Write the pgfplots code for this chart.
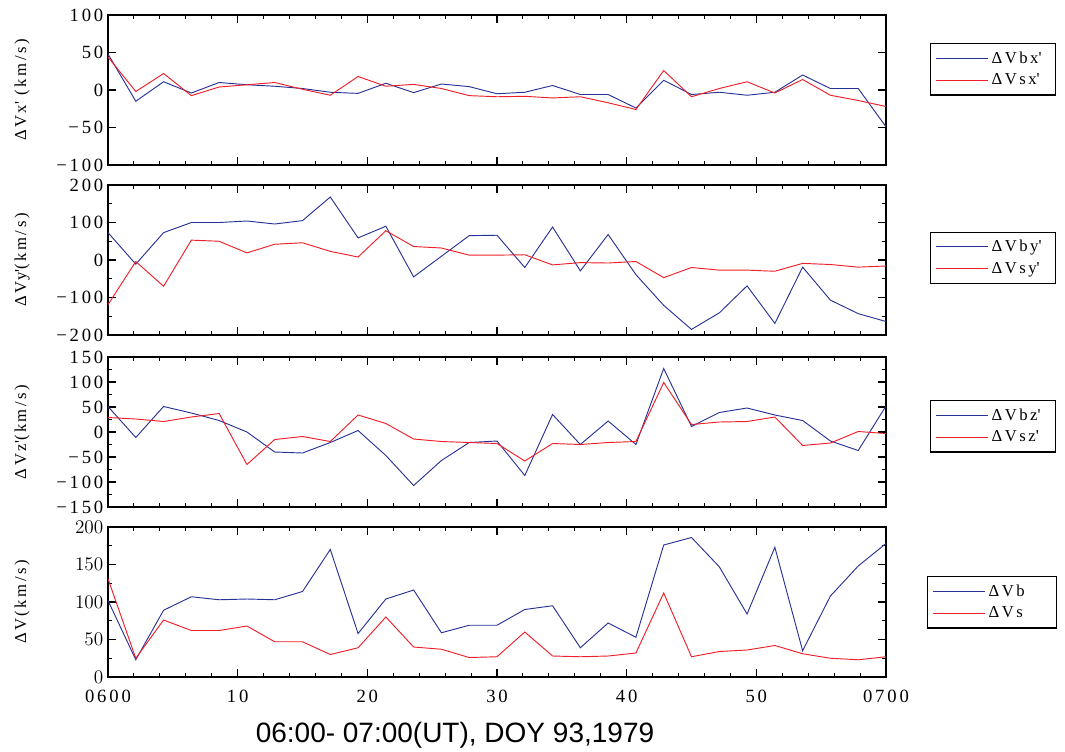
\documentclass[border=0pt]{standalone}
\usepackage{fontspec}
\setmainfont[LetterSpace=15]{Liberation Serif}
\newfontfamily\titlefont{Liberation Sans}
\usepackage{pgfplots}
\usepackage{pgfplotstable}
\pgfplotsset{compat=1.18}

\definecolor{bline}{RGB}{40,50,150}
\definecolor{rline}{RGB}{240,30,40}
\newcommand{\pr}{\textquotesingle}

% minutes after 0600 UT; b = ΔVb, s = ΔVs components
\pgfplotstableread{
t      bx    sx     by    sy   bz    sz   b    s
0      48    44     73  -119   51    29  102  131
2.143 -15    -2    -11    -4  -11    26   23   25
4.286  11    22     73   -70   51    21   89   76
6.429  -4   -7.5   100    53   38    30  107   62
8.571  10     4    100    50   23    37  103   62
10.714  7     7    104    19    0   -65  104   68
12.857  5    10     96    42  -40   -15  103   47
15      2     1    105    46  -42    -9  114   47
17.143 -3    -7    168    23  -21   -19  170   30
19.286 -4.5  18     59     8    3    34   58   39
21.429  9     5     90    78  -47    17  104   80
23.571 -3.5  7.5   -45    36 -107   -14  116   40
25.714  8     2     10    32  -57   -19   59   37
27.857  4.5  -7.5   65    13  -21   -21   69   26
30     -5    -9     66    13  -18   -23   69   27
32.143 -3   -8.4   -20    14  -87   -58   90   60
34.286  6  -10.6    88   -13   35   -23   95   28
36.429 -6    -9    -29    -7  -25   -25   39   27
38.571 -6   -17     68    -8   22   -21   72   28
40.714 -24  -26    -39    -4  -25   -19   53   32
42.857 13    26   -121   -47  127    99  176  112
45     -6    -9   -185   -20   11    15  186   27
47.143 -3     2   -141   -27   39    20  147   34
49.286 -7    11    -69   -27   48    21   84   36
51.429 -3    -4   -169   -30   34    30  173   42
53.571 20    14    -19    -9   23   -27   35   31
55.714  2    -7   -107   -12  -18   -22  108   25
57.857  2   -14   -143   -19  -37     1  148   23
60    -49   -22   -164   -16   52    -3  178   27
}\datatab

\pgfplotsset{
  panel/.style={
    scale only axis, width=583.5pt, height=112.5pt,
    xmin=0, xmax=60, xtick={0,10,...,60}, minor x tick num=4,
    xticklabels={},
    tick align=inside, major tick length=6pt, minor tick length=3pt,
    axis line style={line width=1pt},
    every tick/.style={black, line width=0.8pt},
    tick label style={font=\fontsize{14}{16}\selectfont},
    xticklabel style={yshift=-6pt},
    every axis y label/.style={at={(axis description cs:-0.1105,0.5)}, rotate=90,
      anchor=center, font=\fontsize{12.5}{14}\selectfont},
    legend style={anchor=north west, draw=black, line width=1pt,
      font=\fontsize{12.5}{16.5}\selectfont, inner xsep=4pt, inner ysep=4pt,
      row sep=2.5pt},
    legend cell align=left,
    legend image code/.code={\draw[#1] (0pt,0pt) -- (39pt,0pt);},
  },
  bl/.style={color=bline, line width=0.7pt},
  rl/.style={color=rline, line width=0.7pt},
}

\begin{document}
\begin{tikzpicture}
\useasboundingbox (0,0) rectangle (798.75pt,-563.25pt);

\begin{axis}[panel, at={(81pt,-11.25pt)}, anchor=north west,
  ymin=-100, ymax=100, ytick={-100,-50,0,50,100},
  yticklabels={−100,−50,0,50,100},
  ylabel={ΔVx\pr\ (km/s)},
  legend style={at={(1.0566,0.813)}}]
  \addplot[bl] table[x=t, y=bx] {\datatab};
  \addlegendentry{\makebox[42pt][l]{ΔVbx\pr}}
  \addplot[rl] table[x=t, y=sx] {\datatab};
  \addlegendentry{\makebox[42pt][l]{ΔVsx\pr}}
\end{axis}

\begin{axis}[panel, at={(81pt,-138.75pt)}, anchor=north west,
  ymin=-200, ymax=200, ytick={-200,-100,0,100,200},
  yticklabels={−200,−100,0,100,200},
  minor ytick={-150,-50,50,150},
  ylabel={ΔVy\pr(km/s)},
  legend style={at={(1.0566,0.69)}}]
  \addplot[bl] table[x=t, y=by] {\datatab};
  \addlegendentry{\makebox[42pt][l]{ΔVby\pr}}
  \addplot[rl] table[x=t, y=sy] {\datatab};
  \addlegendentry{\makebox[42pt][l]{ΔVsy\pr}}
\end{axis}

\begin{axis}[panel, at={(81pt,-267.75pt)}, anchor=north west,
  ymin=-150, ymax=150, ytick={-150,-100,...,150},
  yticklabels={−150,−100,−50,0,50,100,150},
  minor ytick={-125,-75,-25,25,75,125},
  ylabel={ΔVz\pr(km/s)},
  legend style={at={(1.0566,0.713)}}]
  \addplot[bl] table[x=t, y=bz] {\datatab};
  \addlegendentry{\makebox[42pt][l]{ΔVbz\pr}}
  \addplot[rl] table[x=t, y=sz] {\datatab};
  \addlegendentry{\makebox[42pt][l]{ΔVsz\pr}}
\end{axis}

\begin{axis}[panel, at={(81pt,-395.25pt)}, anchor=north west,
  ymin=0, ymax=200, ytick={0,50,...,200},
  minor ytick={25,75,125,175},
  xticklabels={0600,10,20,30,40,50,0700},
  ylabel={ΔV(km/s)},
  xlabel={06:00- 07:00(UT), DOY 93,1979},
  every axis x label/.style={at={(axis description cs:0.446,0)}, anchor=center,
    yshift=-44pt, font=\titlefont\fontsize{21}{24}\selectfont},
  legend style={at={(1.0527,0.673)}}]
  \addplot[bl] table[x=t, y=b] {\datatab};
  \addlegendentry{\makebox[45pt][l]{ΔVb}}
  \addplot[rl] table[x=t, y=s] {\datatab};
  \addlegendentry{\makebox[45pt][l]{ΔVs}}
\end{axis}
\end{tikzpicture}
\end{document}
